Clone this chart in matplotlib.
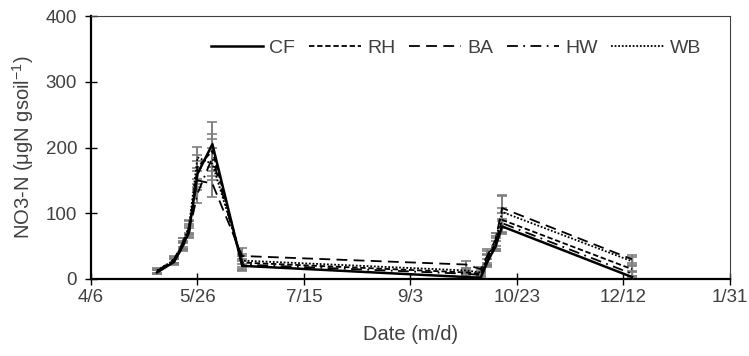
import matplotlib.pyplot as plt
import numpy as np
import pandas as pd

# sampling dates (m/d), 2019 season
dates = ['2019-05-07', '2019-05-15', '2019-05-19', '2019-05-22', '2019-05-26',
         '2019-06-02', '2019-06-16', '2019-09-29', '2019-10-06', '2019-10-09',
         '2019-10-13', '2019-10-16', '2019-12-16']

CF = [10, 26, 50, 72, 160, 205, 20, 3, 2, 25, 50, 80, 3]
RH = [11, 28, 52, 75, 170, 195, 25, 10, 8, 30, 55, 90, 15]
BA = [12, 30, 55, 78, 150, 145, 35, 22, 15, 35, 60, 108, 30]
HW = [10, 27, 48, 70, 130, 185, 22, 8, 6, 28, 52, 85, 8]
WB = [13, 29, 54, 80, 185, 175, 28, 13, 10, 32, 58, 102, 27]

CF_err = [3, 4, 6, 8, 20, 34, 8, 2, 2, 6, 8, 12, 2]
RH_err = [3, 4, 6, 8, 18, 25, 10, 3, 3, 8, 10, 18, 5]
BA_err = [3, 5, 7, 10, 15, 20, 12, 5, 4, 10, 10, 20, 6]
HW_err = [3, 4, 6, 8, 15, 28, 8, 3, 3, 8, 10, 15, 4]
WB_err = [4, 5, 8, 10, 16, 25, 10, 4, 3, 10, 12, 25, 6]

tick_dates = ['2019-04-06', '2019-05-26', '2019-07-15', '2019-09-03',
              '2019-10-23', '2019-12-12', '2020-01-31']
tick_labels = ['4/6', '5/26', '7/15', '9/3', '10/23', '12/12', '1/31']

plt.rcParams['font.family'] = ['Liberation Sans', 'DejaVu Sans']
plt.rcParams['mathtext.default'] = 'regular'

start = pd.Timestamp(tick_dates[0])
x = np.array([(pd.Timestamp(d) - start).days for d in dates])
xt = [(pd.Timestamp(d) - start).days for d in tick_dates]

fig = plt.figure(figsize=(7.49, 3.56), dpi=100)
ax = fig.add_axes([0.1215, 0.2163, 0.853, 0.7387])

series = [
    ('CF', CF, CF_err, '-', 1.8),
    ('RH', RH, RH_err, (0, (3, 1.5)), 1.3),
    ('BA', BA, BA_err, (0, (6, 3.5)), 1.3),
    ('HW', HW, HW_err, (0, (6, 3, 1, 3)), 1.3),
    ('WB', WB, WB_err, (0, (1, 1)), 1.3),
]

for name, y, err, ls, lw in series:
    ax.errorbar(x, y, yerr=err, fmt='none', ecolor='#7f7f7f', elinewidth=1.4,
                capsize=3.5, capthick=1.2, zorder=2)
    ax.plot(x, y, color='black', linestyle=ls, linewidth=lw, label=name, zorder=3)
    ax.plot(x, y, linestyle='none', marker='|', markersize=3, color='#c55a11',
            zorder=1)

ax.set_xlim(0, 300)
ax.set_ylim(0, 400)
ax.set_xticks(xt)
ax.set_xticklabels(tick_labels)
ax.set_yticks([0, 100, 200, 300, 400])

for s in ['left', 'bottom']:
    ax.spines[s].set_linewidth(1.6)
    ax.spines[s].set_color('black')
for s in ['top', 'right']:
    ax.spines[s].set_linewidth(0.8)
    ax.spines[s].set_color('#404040')

ax.tick_params(direction='inout', length=8, width=1, colors='black',
               labelcolor='#404040', labelsize=13.5)
ax.tick_params(axis='x', pad=3)
ax.tick_params(axis='y', pad=6)

ax.set_xlabel('Date (m/d)', fontsize=14.5, color='#404040', labelpad=14)
ax.set_ylabel('NO3-N (μgN gsoil$^{-1}$)', fontsize=14.5, color='#404040',
              labelpad=7)

ax.legend(loc='center', bbox_to_anchor=(0.571, 0.878), ncol=5, frameon=False,
          fontsize=14, handlelength=2.7, handletextpad=0.3, columnspacing=0.7,
          labelcolor='#404040')

fig.savefig('out.png', dpi=100)
